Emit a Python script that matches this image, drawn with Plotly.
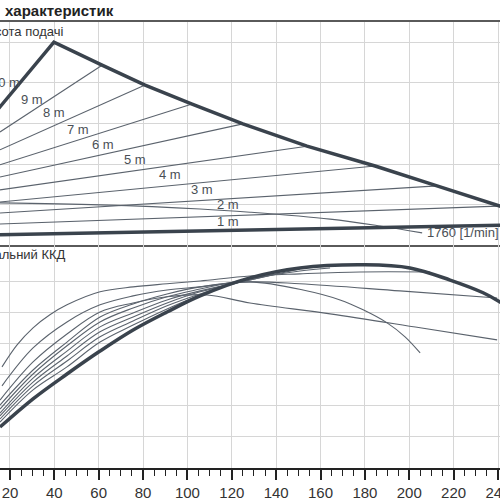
import plotly.graph_objects as go
from plotly.subplots import make_subplots

# --- Förderhöhe (oben) ---
q_range = [15.5, 240.9]

env_q = [12.0, 39.8, 61.5, 80.9, 102.1, 125.0, 153.9, 184.6, 212.5, 240.0, 250.0]
env_h = [3.18, 5.01, 4.44, 3.95, 3.48, 2.99, 2.44, 1.95, 1.46, 0.96, 0.80]

# regelkennlinien 9 m .. 2 m (start links, ende auf der max-kurve)
set_names = ["9 m", "8 m", "7 m", "6 m", "5 m", "4 m", "3 m", "2 m"]
set_q = [[15.5, 61.5], [15.5, 80.9], [15.5, 102.1], [15.5, 125.0],
         [15.5, 153.9], [15.5, 184.6], [15.5, 212.5], [15.5, 240.0]]
set_h = [[2.79, 4.44], [2.35, 3.95], [1.98, 3.48], [1.68, 2.99],
         [1.36, 2.44], [1.06, 1.95], [0.79, 1.46], [0.52, 0.96]]

one_q = [15.5, 250.0]
one_h = [0.25, 0.50]

min_q = [15.5, 60.6, 105.7, 128.2, 164.3, 186.8, 205.8]
min_h = [1.04, 0.99, 0.89, 0.81, 0.64, 0.47, 0.30]

lbl_text = ["10 m", "9 m", "8 m", "7 m", "6 m", "5 m", "4 m", "3 m", "2 m", "1 m"]
lbl_q = [25.4, 29.9, 39.8, 50.7, 61.9, 76.4, 92.1, 106.6, 118.3, 118.3]
lbl_h = [4.00, 3.60, 3.26, 2.86, 2.47, 2.12, 1.73, 1.36, 0.99, 0.59]

# --- Wirkungsgrad (unten) ---
eta_max_q = [15.5, 30.4, 45.7, 60.6, 75.5, 90.8, 105.7, 128.2, 150.7, 180.1, 200.3, 218.4, 233.3, 240.9, 250.0]
eta_max = [13.2, 22.3, 30.3, 37.7, 44.5, 50.3, 55.5, 61.3, 64.5, 65.5, 64.5, 60.6, 56.5, 53.5, 49.0]

eta_q = [
    [16.4, 23.2, 30.4, 38.0, 45.7, 60.6, 75.5, 90.8, 105.7, 128.2, 150.7, 177.8, 209.4],
    [16.4, 30.4, 45.7, 60.6, 75.5, 90.8, 105.7, 128.2, 152.1, 168.8, 179.2, 190.0, 198.1, 204.9],
    [15.5, 30.4, 45.7, 60.6, 75.5, 90.8, 108.8, 128.2, 164.3, 204.9, 239.6],
    [15.5, 30.4, 45.7, 60.6, 75.5, 90.8, 105.7, 128.2, 150.7, 195.8, 239.6],
    [15.5, 30.4, 45.7, 60.6, 75.5, 90.8, 105.7, 128.2, 150.7, 164.3],
    [15.5, 30.4, 45.7, 60.6, 75.5, 90.8, 105.7, 128.2, 150.7],
    [15.5, 30.4, 45.7, 60.6, 75.5, 90.8, 105.7, 128.2, 141.7],
    [15.5, 30.4, 45.7, 60.6, 75.5, 90.8, 105.7, 128.2, 135.0],
    [15.5, 30.4, 45.7, 60.6, 75.5, 90.8, 105.7, 123.7],
]
eta_v = [
    [32.6, 39.7, 45.2, 49.4, 52.6, 56.8, 58.4, 59.4, 60.3, 61.9, 62.6, 63.2, 63.2],
    [26.5, 38.7, 47.1, 52.6, 55.5, 57.4, 58.4, 60.0, 57.4, 54.2, 51.0, 46.8, 42.3, 37.1],
    [21.9, 34.2, 43.2, 50.3, 53.2, 55.2, 55.8, 53.2, 49.7, 45.2, 41.3],
    [20.3, 31.6, 40.6, 48.7, 52.9, 56.1, 58.4, 60.0, 59.4, 57.1, 54.8],
    [19.0, 30.3, 39.4, 47.1, 51.6, 55.2, 57.7, 61.0, 63.5, 64.5],
    [17.7, 29.0, 37.7, 45.5, 50.0, 54.2, 57.1, 60.6, 64.2],
    [16.8, 27.7, 36.1, 43.9, 48.7, 53.2, 56.8, 60.6, 62.9],
    [15.8, 26.5, 34.5, 42.3, 47.4, 52.3, 56.1, 61.0, 61.9],
    [14.8, 25.2, 32.6, 40.6, 46.1, 51.3, 55.8, 60.3],
]

THIN = "#5b636d"
THICK = "#3a434d"
TXT = "#4a4f55"
FONT = "Liberation Sans, Arial, sans-serif"

fig = make_subplots(rows=2, cols=1, shared_xaxes=True, vertical_spacing=0)

for q, h in zip(set_q, set_h):
    fig.add_trace(go.Scatter(x=q, y=h, mode="lines", line=dict(color=THIN, width=1.1)), row=1, col=1)
fig.add_trace(go.Scatter(x=min_q, y=min_h, mode="lines", line=dict(color=THIN, width=1.1, shape="spline")), row=1, col=1)
fig.add_trace(go.Scatter(x=one_q, y=one_h, mode="lines", line=dict(color=THICK, width=3.5)), row=1, col=1)
fig.add_trace(go.Scatter(x=env_q, y=env_h, mode="lines", line=dict(color=THICK, width=3.5)), row=1, col=1)

for q, v in zip(eta_q, eta_v):
    fig.add_trace(go.Scatter(x=q, y=v, mode="lines", line=dict(color=THIN, width=1.1, shape="spline")), row=2, col=1)
fig.add_trace(go.Scatter(x=eta_max_q, y=eta_max, mode="lines", line=dict(color=THICK, width=3.5, shape="spline")), row=2, col=1)

ann = []
for t, q, h in zip(lbl_text, lbl_q, lbl_h):
    ann.append(dict(x=q, y=h, xref="x", yref="y", text=t, showarrow=False,
                    xanchor="right" if t == "10 m" else "center",
                    font=dict(size=13, color=TXT)))
ann.append(dict(x=207.1, y=0.30, xref="x", yref="y", text="1760 [1/min]", showarrow=False,
                xanchor="left", font=dict(size=13, color=TXT)))
ann.append(dict(x=44.8, y=5.26, xref="x", yref="y", text="Висота подачі", showarrow=False,
                xanchor="right", font=dict(size=13, color="#333")))
ann.append(dict(x=46.2, y=68.7, xref="x2", yref="y2", text="Загальний ККД", showarrow=False,
                xanchor="right", font=dict(size=13, color="#333")))
ann.append(dict(x=0.006, y=0.98, xref="paper", yref="paper", text="<b>характеристик</b>", showarrow=False,
                xanchor="left", yanchor="middle", font=dict(size=15, color="#222")))

fig.update_layout(
    width=500, height=500,
    margin=dict(l=0, r=0, t=0, b=0, autoexpand=False),
    paper_bgcolor="white", plot_bgcolor="white",
    showlegend=False,
    font=dict(family=FONT),
    annotations=ann,
)

grid = dict(showgrid=True, gridcolor="#d6d6d6", gridwidth=1, zeroline=False)
fig.update_xaxes(range=q_range, tick0=0, dtick=20, **grid)
fig.update_xaxes(row=1, col=1, showticklabels=False, ticks="",
                 showline=True, mirror=True, linecolor="#5a5a5a", linewidth=1.8)
fig.update_xaxes(row=2, col=1, showline=True, linecolor="#222", linewidth=1.5,
                 ticks="outside", ticklen=10, tickwidth=1.5, tickcolor="#222",
                 tickfont=dict(size=15, color="#333"), ticklabeloverflow="allow",
                 minor=dict(dtick=5, ticks="outside", ticklen=6, tickwidth=1.2, tickcolor="#222", showgrid=False))
fig.update_yaxes(row=1, col=1, domain=[0.51, 0.956], range=[0, 5.506], dtick=1,
                 showticklabels=False, ticks="", **grid)
fig.update_yaxes(row=2, col=1, domain=[0.064, 0.51], range=[0, 71.9],
                 tickvals=[10, 20, 30, 40, 50, 60], showticklabels=False, ticks="", **grid)

# body-rand weg, sonst sitzt der plot 8px versetzt
fig.write_html("out.html", config={"displayModeBar": False},
               post_script="document.body.style.margin='0';")
